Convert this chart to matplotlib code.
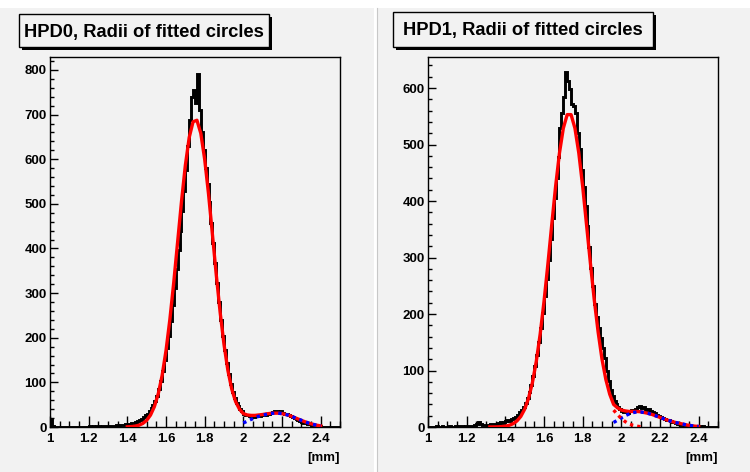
import numpy as np
import matplotlib
matplotlib.use('Agg')
import matplotlib.pyplot as plt
from matplotlib.patches import Rectangle
from matplotlib.ticker import MultipleLocator

plt.rcParams['font.family'] = ['Liberation Sans', 'DejaVu Sans']
plt.rcParams['font.weight'] = 'bold'

# histogram binning: 150 bins of 0.01 mm between 1.0 and 2.5
bin_lo, bin_hi, n_bins = 1.0, 2.5, 150

titles = ['HPD0, Radii of fitted circles', 'HPD1, Radii of fitted circles']
x_unit = '[mm]'
x_tick_labels = ['1', '1.2', '1.4', '1.6', '1.8', '2', '2.2', '2.4']

# HPD0 counts per bin
hpd0_counts = [
    18, 2, 1, 0, 1, 0, 1, 0, 0, 1,
    0, 1, 1, 0, 1, 1, 0, 1, 1, 1,
    2, 1, 2, 1, 2, 2, 1, 2, 3, 2,
    3, 2, 3, 3, 4, 3, 4, 5, 4, 6,
    6, 7, 8, 9, 11, 13, 15, 18, 22, 26,
    30, 36, 43, 50, 58, 70, 86, 104, 126, 150,
    176, 205, 238, 274, 312, 354, 396, 440, 485, 528,
    575, 630, 688, 740, 755, 726, 790, 710, 660, 620,
    580, 545, 505, 458, 412, 368, 322, 280, 240, 204,
    172, 144, 118, 96, 78, 64, 54, 46, 40, 35,
    30, 28, 26, 24, 25, 22, 24, 26, 25, 27,
    28, 27, 30, 29, 31, 33, 35, 36, 34, 35,
    31, 29, 30, 27, 25, 22, 20, 18, 16, 14,
    12, 10, 8, 7, 6, 5, 4, 3, 2, 2,
    1, 1, 0, 1, 0, 0, 1, 0, 0, 0,
]

# HPD1 counts per bin
hpd1_counts = [
    0, 0, 0, 0, 1, 0, 0, 1, 0, 0,
    0, 1, 0, 0, 1, 0, 1, 1, 0, 1,
    1, 2, 1, 2, 3, 5, 8, 6, 4, 3,
    3, 4, 5, 6, 5, 6, 7, 8, 7, 9,
    10, 12, 11, 14, 16, 18, 22, 26, 30, 36,
    42, 52, 62, 74, 90, 108, 128, 150, 175, 202,
    232, 262, 296, 332, 370, 405, 440, 478, 530, 555,
    585, 628, 612, 598, 572, 568, 556, 520, 492, 455,
    425, 392, 355, 318, 282, 250, 218, 195, 175, 158,
    140, 122, 100, 82, 66, 54, 46, 40, 35, 31,
    28, 26, 27, 25, 28, 30, 29, 32, 35, 37,
    33, 35, 32, 30, 31, 28, 26, 25, 22, 20,
    18, 16, 15, 13, 12, 10, 9, 8, 7, 6,
    5, 4, 4, 3, 3, 2, 2, 1, 1, 1,
    1, 0, 1, 0, 0, 0, 0, 0, 0, 0,
]

fit_step = 0.02

hpd0_fit_start = 1.40
hpd0_fit = [0.4, 0.9, 1.9, 4.0, 7.9, 14.9, 26.8, 45.7, 74.5, 115.6,
            171, 241, 323.5, 414, 504.5, 586, 648.6, 684, 687.3, 658,
            600, 522, 432, 341, 257, 185, 127, 85, 57, 40,
            30, 27, 26, 26, 27, 28, 29.5, 30.5, 31, 31,
            30, 28, 25.5, 22, 18.5, 15, 11.5, 8.5, 6, 4, 2.5]
hpd0_bkg_start = 2.00
hpd0_bkg = [9, 13, 17, 21, 24, 26.5, 28.5, 30, 31, 31,
            30, 28, 25.5, 22, 18.5, 15, 11.5, 8.5, 6, 4, 2.5]

hpd1_fit_start = 1.32
hpd1_fit = [0.1, 0.1, 0.3, 0.7, 1.5, 3.0, 5.8, 10.7, 18.7, 31.5,
            50.8, 78.4, 115.9, 164, 222, 288, 358, 426, 485, 529,
            553, 553, 529, 485, 426, 358, 290, 225, 168, 120,
            84, 58, 40, 34, 30, 28.5, 27.5, 27.5, 27.5, 27,
            25.5, 24, 22, 19.5, 17, 14.5, 12, 10, 8, 6.5,
            5, 3.5, 2.5, 1.5, 1]
hpd1_bkg_start = 1.96
hpd1_bkg = [8, 12, 16, 20, 23, 25.5, 26.5, 26.5, 25.5, 24,
            22, 19.5, 17, 14.5, 12, 10, 8, 6.5, 5, 3.5,
            2.5, 1.5, 1]
hpd1_sig_start = 1.96
hpd1_sig = [30, 22, 15, 9.5, 5.5, 3, 1.5, 0.5]

ymax = [829, 655]

W, H = 750, 472
bg = '#f2f2f2'

fig = plt.figure(figsize=(W / 100, H / 100), dpi=100)
fig.patch.set_facecolor(bg)


def fx(p):
    return p / W


def fy(p):
    return 1 - p / H


# white strip on top and pad separator
fig.add_artist(Rectangle((0, fy(8)), 1, 8 / H, transform=fig.transFigure,
                         fc='white', ec='none', zorder=-5))
fig.add_artist(Rectangle((fx(374), 0), 3 / W, 1, transform=fig.transFigure,
                         fc='white', ec='none', zorder=-5))
fig.add_artist(plt.Line2D([fx(377), fx(377)], [0, fy(8)], transform=fig.transFigure,
                          color='#c8c8c8', lw=0.8))


def title_box(x0, y0, x1, y1, text):
    w, h = (x1 - x0) / W, (y1 - y0) / H
    fig.add_artist(Rectangle((fx(x0 + 3), fy(y1 + 3)), w, h, transform=fig.transFigure,
                             fc='black', ec='none', zorder=2))
    fig.add_artist(Rectangle((fx(x0), fy(y1)), w, h, transform=fig.transFigure,
                             fc=bg, ec='black', lw=1, zorder=3))
    fig.text(fx((x0 + x1) / 2), fy((y0 + y1) / 2 + 1.5), text, ha='center', va='center',
             fontsize=13.2, fontweight='bold', zorder=4)


def curve(ax, start, vals, **kw):
    xs = start + fit_step * np.arange(len(vals))
    ax.plot(xs, vals, **kw)


edges = np.linspace(bin_lo, bin_hi, n_bins + 1)
x_ticks = [float(t) for t in x_tick_labels]

panels = [
    (50, hpd0_counts, [(hpd0_fit_start, hpd0_fit, 'solid', 'red'),
                       (hpd0_bkg_start, hpd0_bkg, 'dot', 'blue')]),
    (428, hpd1_counts, [(hpd1_fit_start, hpd1_fit, 'solid', 'red'),
                        (hpd1_bkg_start, hpd1_bkg, 'dot', 'blue'),
                        (hpd1_sig_start, hpd1_sig, 'dot', 'red')]),
]

for i, (left, counts, curves) in enumerate(panels):
    ax = fig.add_axes([fx(left), fy(427), 290 / W, 370 / H])
    ax.set_facecolor(bg)
    ax.stairs(counts, edges, color='black', lw=2.1, zorder=2)
    for start, vals, style, col in curves:
        if style == 'solid':
            curve(ax, start, vals, color=col, lw=2.4, zorder=3)
        else:
            curve(ax, start, vals, color=col, lw=2.4, ls=(0, (1, 1.2)), zorder=4)
    ax.set_xticks(x_ticks)
    ax.set_xticklabels(x_tick_labels)
    ax.xaxis.set_minor_locator(MultipleLocator(0.05))
    ax.yaxis.set_major_locator(MultipleLocator(100))
    ax.yaxis.set_minor_locator(MultipleLocator(20))
    ax.set_xlim(bin_lo, bin_hi)
    ax.set_ylim(0, ymax[i])
    ax.tick_params(axis='x', which='major', direction='in', length=8, width=1,
                   labelsize=9.5, pad=4)
    ax.tick_params(axis='x', which='minor', direction='in', length=4.3, width=1)
    ax.tick_params(axis='y', which='major', direction='in', length=6, width=1,
                   labelsize=9.5, pad=2.5)
    ax.tick_params(axis='y', which='minor', direction='in', length=3, width=1)
    ax.tick_params(top=False, right=False, which='both')
    for lab in ax.get_xticklabels() + ax.get_yticklabels():
        lab.set_fontweight('bold')
    for s in ax.spines.values():
        s.set_linewidth(1)
    fig.text(fx(left + 290), fy(458), x_unit, ha='right', va='center',
             fontsize=9.5, fontweight='bold')

title_box(19, 14, 269, 47, titles[0])
title_box(393, 12, 653, 47, titles[1])

fig.savefig('out.png', dpi=100, facecolor=fig.get_facecolor())
